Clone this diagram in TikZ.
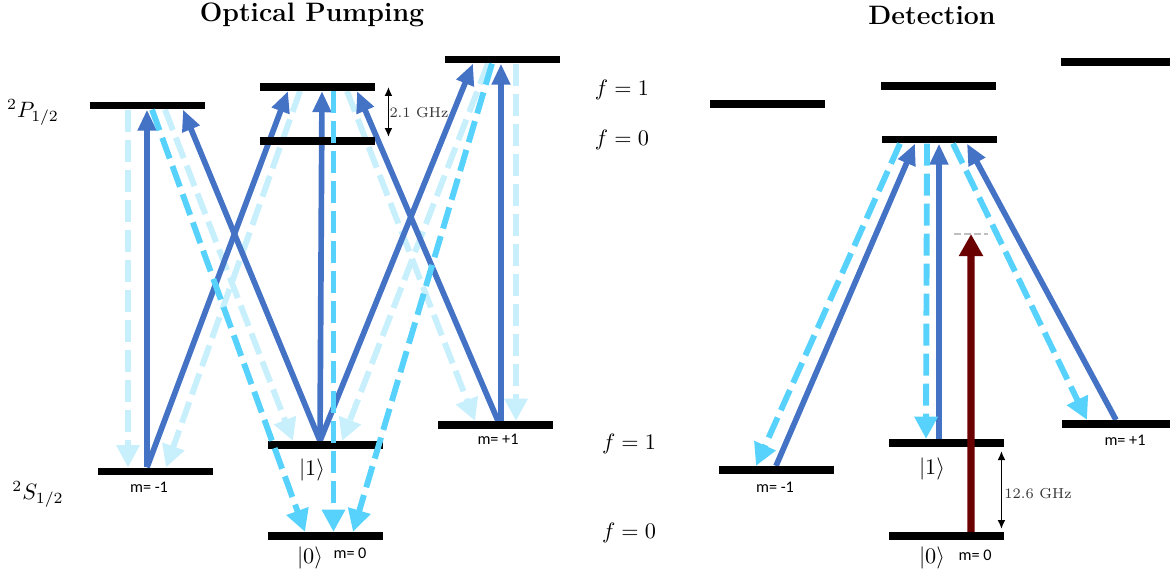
\documentclass[tikz,border=0pt]{standalone}
\usepackage{amsmath}
\usepackage{fontspec}
\newfontfamily\labelfont{Carlito}
\usetikzlibrary{arrows.meta,calc,backgrounds}
\definecolor{pumpblue}{HTML}{4472C4}
\definecolor{decaycyan}{HTML}{57D2FC}
\definecolor{decaylight}{HTML}{C7EFFC}
\definecolor{probered}{HTML}{6B0000}

\begin{document}
\begin{tikzpicture}[x=0.45pt, y=-0.45pt,
  levelbar/.style={fill=black, inner sep=0pt, minimum width=51.75pt, minimum height=3.3pt},
  mlabel/.style={font=\labelfont\fontsize{7.3}{8}\selectfont, inner sep=0pt},
  hfslabel/.style={font=\fontsize{6.5}{7}\selectfont, text=black!80, inner sep=0pt},
  title/.style={font=\large\bfseries},
  pump/.style={-{Triangle[width=8pt,length=9.5pt]}, line width=2.55pt, color=pumpblue},
  decay/.style={-{Triangle[width=10pt,length=10pt]}, line width=2.65pt, color=decaycyan, dash pattern=on 9.9pt off 3.6pt},
  weakdecay/.style={decay, color=decaylight},
  probe/.style={-{Triangle[width=10.4pt,length=10pt]}, line width=3.2pt, color=probered},
  virtual/.style={draw=black!25, line width=0.9pt, dash pattern=on 3pt off 1.5pt},
  hfs/.style={{Latex[length=4pt,width=3.5pt]}-{Latex[length=4pt,width=3.5pt]}, line width=0.6pt}
]
\useasboundingbox (0,0) rectangle (1170,578);

\node[title] (titleOP) at (312,15) {Optical Pumping};
\node[title] (titleDet) at (932,15) {Detection};

\node (lblP) at (33,112) {$^2P_{1/2}$};
\node (lblS) at (38,494) {$^2S_{1/2}$};
\node (fP1) at (622,90) {$f=1$};
\node (fP0) at (622,140) {$f=0$};
\node (fS1) at (629,444) {$f=1$};
\node (fS0) at (629,533) {$f=0$};

\node[levelbar] (lP1m) at (147,105.5) {};
\node[levelbar] (lP10) at (317.5,87) {};
\node[levelbar] (lP00) at (317.5,141) {};
\node[levelbar] (lP1p) at (502.5,59.5) {};
\node[levelbar] (lS1m) at (155,471.5) {};
\node[levelbar] (lS10) at (325.5,445) {};
\node[levelbar] (lS00) at (325.5,536) {};
\node[levelbar] (lS1p) at (495.5,425) {};

\node[levelbar] (rP1m) at (767.5,104) {};
\node[levelbar] (rP10) at (938,86) {};
\node[levelbar] (rP00) at (939.5,139.5) {};
\node[levelbar, minimum width=49pt] (rP1p) at (1115.5,62) {};
\node[levelbar] (rS1m) at (776,470) {};
\node[levelbar] (rS10) at (946.5,443) {};
\node[levelbar] (rS00) at (946.5,536) {};
\node[levelbar, minimum width=48.6pt] (rS1p) at (1116,424) {};

\node[mlabel] (mlS1m) at (149,487) {m= -1};
\node (ketl1) at (312,470) {$\vert 1\rangle$};
\node (ketl0) at (310,558) {$\vert 0\rangle$};
\node[mlabel] (mlS00) at (350,553) {m= 0};
\node[mlabel] (mlS1p) at (498,439) {m= +1};

\node[mlabel] (mrS1m) at (775,487) {m= -1};
\node (ketr1) at (932,469) {$\vert 1\rangle$};
\node (ketr0) at (932,558) {$\vert 0\rangle$};
\node[mlabel] (mrS00) at (975,555) {m= 0};
\node[mlabel] (mrS1p) at (1125,440) {m= +1};

\begin{scope}[on background layer]
\draw[weakdecay] ($(lP1m.south)+(-19,0)$) -- ($(lS1m.north)+(-27,0)$);
\draw[weakdecay] ($(lP1m.south)+(18,0)$) -- ($(lS10.north)+(-32.5,0)$);
\draw[weakdecay] ($(lP10.south)+(-17.5,0)$) -- ($(lS1m.north)+(11,0)$);
\draw[weakdecay] ($(lP10.south)+(29.5,0)$) -- ($(lS1p.north)+(-20.5,0)$);
\draw[weakdecay] ($(lP1p.south)+(-14.5,0)$) -- ($(lS10.north)+(16.5,0)$);
\draw[weakdecay] ($(lP1p.south)+(13.5,0)$) -- ($(lS1p.north)+(20.5,0)$);
\draw[pump] ($(lS1m.north)+(-8,0)$) -- (lP1m.south);
\draw[pump] ($(lS1m.north)+(-8,0)$) -- ($(lP10.south)+(-29.5,0)$);
\draw[pump] ($(lS10.north)+(-5.5,0)$) -- ($(lP1m.south)+(36,0)$);
\draw[pump] ($(lS10.north)+(-5.5,0)$) -- ($(lP10.south)+(4.5,0)$);
\draw[pump] ($(lS10.north)+(-5.5,0)$) -- ($(lP1p.south)+(-29.5,0)$);
\draw[pump] ($(lS1p.north)+(2.5,0)$) -- ($(lP10.south)+(39.5,0)$);
\draw[pump] ($(lS1p.north)+(5.5,0)$) -- ($(lP1p.south)+(-1.5,0)$);
\draw[pump] (rS1m.north) -- ($(rP00.south)+(-24.5,0)$);
\draw[pump] ($(rS10.north)+(-7.5,0)$) -- ($(rP00.south)+(-0.5,0)$);
\draw[pump] (rS1p.north) -- ($(rP00.south)+(27.5,0)$);
\end{scope}

\draw[decay] ($(lP1m.south)+(5,0)$) -- ($(lS00.north)+(-20.5,0)$);
\draw[decay] ($(lP10.south)+(16,0)$) -- ($(lS00.north)+(8,0)$);
\draw[decay] ($(lP1p.south)+(-10.5,0)$) -- ($(lS00.north)+(27.5,0)$);
\draw[decay] ($(rP00.south)+(-39.5,0)$) -- ($(rS1m.north)+(-20,0)$);
\draw[decay] ($(rP00.south)+(-12.5,0)$) -- ($(rS10.north)+(-20.5,0)$);
\draw[decay] ($(rP00.south)+(13.5,0)$) -- ($(rS1p.north)+(-29,0)$);

\coordinate (virt) at (971,234);
\draw[virtual] ($(virt)+(-17,0)$) -- ($(virt)+(17,0)$);
\draw[probe] ($(rS00.north)+(24.5,0)$) -- (virt);

\draw[hfs] ($(lP10.east)+(13,0)$) -- ($(lP00.north east)+(13,0)$);
\node[hfslabel] (hfsP) at (419,113) {2.1 GHz};
\draw[hfs] ($(rS10.south east)+(-3,4)$) -- ($(rS00.north east)+(-3,-3)$);
\node[hfslabel] (hfsS) at (1038,494) {12.6 GHz};
\end{tikzpicture}
\end{document}
